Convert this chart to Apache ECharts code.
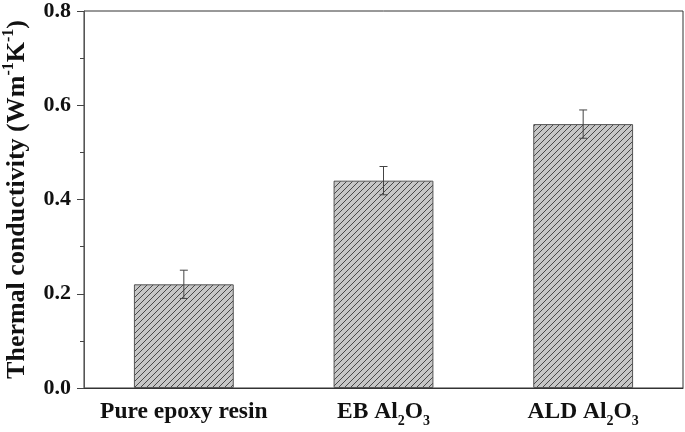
<!DOCTYPE html>
<html>
<head>
<meta charset="utf-8">
<script src="https://cdn.jsdelivr.net/npm/echarts@6/dist/echarts.min.js"></script>
<style>
html,body{margin:0;padding:0;background:#fff;}
#c{width:685px;height:432px;}
</style>
</head>
<body>
<div id="c"></div>
<script>
const categories = ['Pure epoxy resin', 'EB Al2O3', 'ALD Al2O3'];
const values = [0.22, 0.44, 0.56];
const errors = [0.03, 0.03, 0.03];
const yTicks = [0.0, 0.2, 0.4, 0.6, 0.8];

function hatch() {
  const s = 6;
  const c = document.createElement('canvas');
  c.width = s; c.height = s;
  const g = c.getContext('2d');
  g.fillStyle = '#c6c6c6';
  g.fillRect(0, 0, s, s);
  g.strokeStyle = '#3a3a3a';
  g.lineWidth = 0.9;
  g.beginPath();
  g.moveTo(-1, s + 1); g.lineTo(s + 1, -1);
  g.moveTo(-1, 1); g.lineTo(1, -1);
  g.moveTo(s - 1, s + 1); g.lineTo(s + 1, s - 1);
  g.stroke();
  return c;
}

const serif = '"Liberation Serif", "DejaVu Serif", serif';
const chart = echarts.init(document.getElementById('c'));

const labelRich = {
  b: { fontFamily: serif, fontWeight: 'bold', fontSize: 23.5, color: '#111', lineHeight: 32, verticalAlign: 'middle' },
  s: { fontFamily: serif, fontWeight: 'bold', fontSize: 14, color: '#111', lineHeight: 32, verticalAlign: 'bottom' }
};
function fmtCat(v) {
  const m = v.match(/^(.*)Al2O3$/);
  if (m) return '{b|' + m[1] + 'Al}{s|2}{b|O}{s|3}';
  return '{b|' + v + '}';
}

chart.setOption({
  animation: false,
  grid: { left: 84, right: 2, top: 11, bottom: 44, show: true, borderColor: '#333', borderWidth: 1, containLabel: false, outerBoundsMode: 'none' },
  xAxis: {
    type: 'category',
    data: categories,
    axisLine: { lineStyle: { color: '#333', width: 1 } },
    axisTick: { show: false },
    axisLabel: { margin: 8, formatter: fmtCat, rich: labelRich }
  },
  yAxis: {
    type: 'value',
    min: yTicks[0], max: yTicks[yTicks.length - 1], interval: 0.2,
    name: '{t|Thermal conductivity (Wm}{u|-1}{t|K}{u|-1}{t|)}',
    nameLocation: 'middle',
    nameGap: 51,
    nameTextStyle: {
      rich: {
        t: { fontFamily: serif, fontWeight: 'bold', fontSize: 26, color: '#111', lineHeight: 32, verticalAlign: 'middle' },
        u: { fontFamily: serif, fontWeight: 'bold', fontSize: 16, color: '#111', lineHeight: 32, verticalAlign: 'top' }
      }
    },
    axisLine: { show: true, lineStyle: { color: '#555', width: 1 } },
    axisTick: { show: true, inside: false, length: 7, lineStyle: { color: '#444' } },
    minorTick: { show: true, splitNumber: 2, length: 4, lineStyle: { color: '#444' } },
    splitLine: { show: false },
    axisLabel: {
      margin: 13,
      fontFamily: serif, fontWeight: 'bold', fontSize: 22, color: '#111',
      formatter: v => v.toFixed(1)
    }
  },
  series: [
    {
      type: 'bar',
      data: values,
      barWidth: '50%',
      itemStyle: { color: { image: hatch(), repeat: 'repeat' }, borderColor: '#555', borderWidth: 1 }
    },
    {
      type: 'custom',
      data: values.map((v, i) => [i, v - errors[i], v + errors[i]]),
      z: 10,
      renderItem: function (params, api) {
        const lo = api.coord([api.value(0), api.value(1)]);
        const hi = api.coord([api.value(0), api.value(2)]);
        const w = 4;
        const st = { stroke: '#444', lineWidth: 1 };
        return {
          type: 'group',
          children: [
            { type: 'line', shape: { x1: hi[0], y1: hi[1], x2: lo[0], y2: lo[1] }, style: st },
            { type: 'line', shape: { x1: hi[0] - w, y1: hi[1], x2: hi[0] + w, y2: hi[1] }, style: st },
            { type: 'line', shape: { x1: lo[0] - w, y1: lo[1], x2: lo[0] + w, y2: lo[1] }, style: st }
          ]
        };
      }
    }
  ]
});
</script>
</body>
</html>
